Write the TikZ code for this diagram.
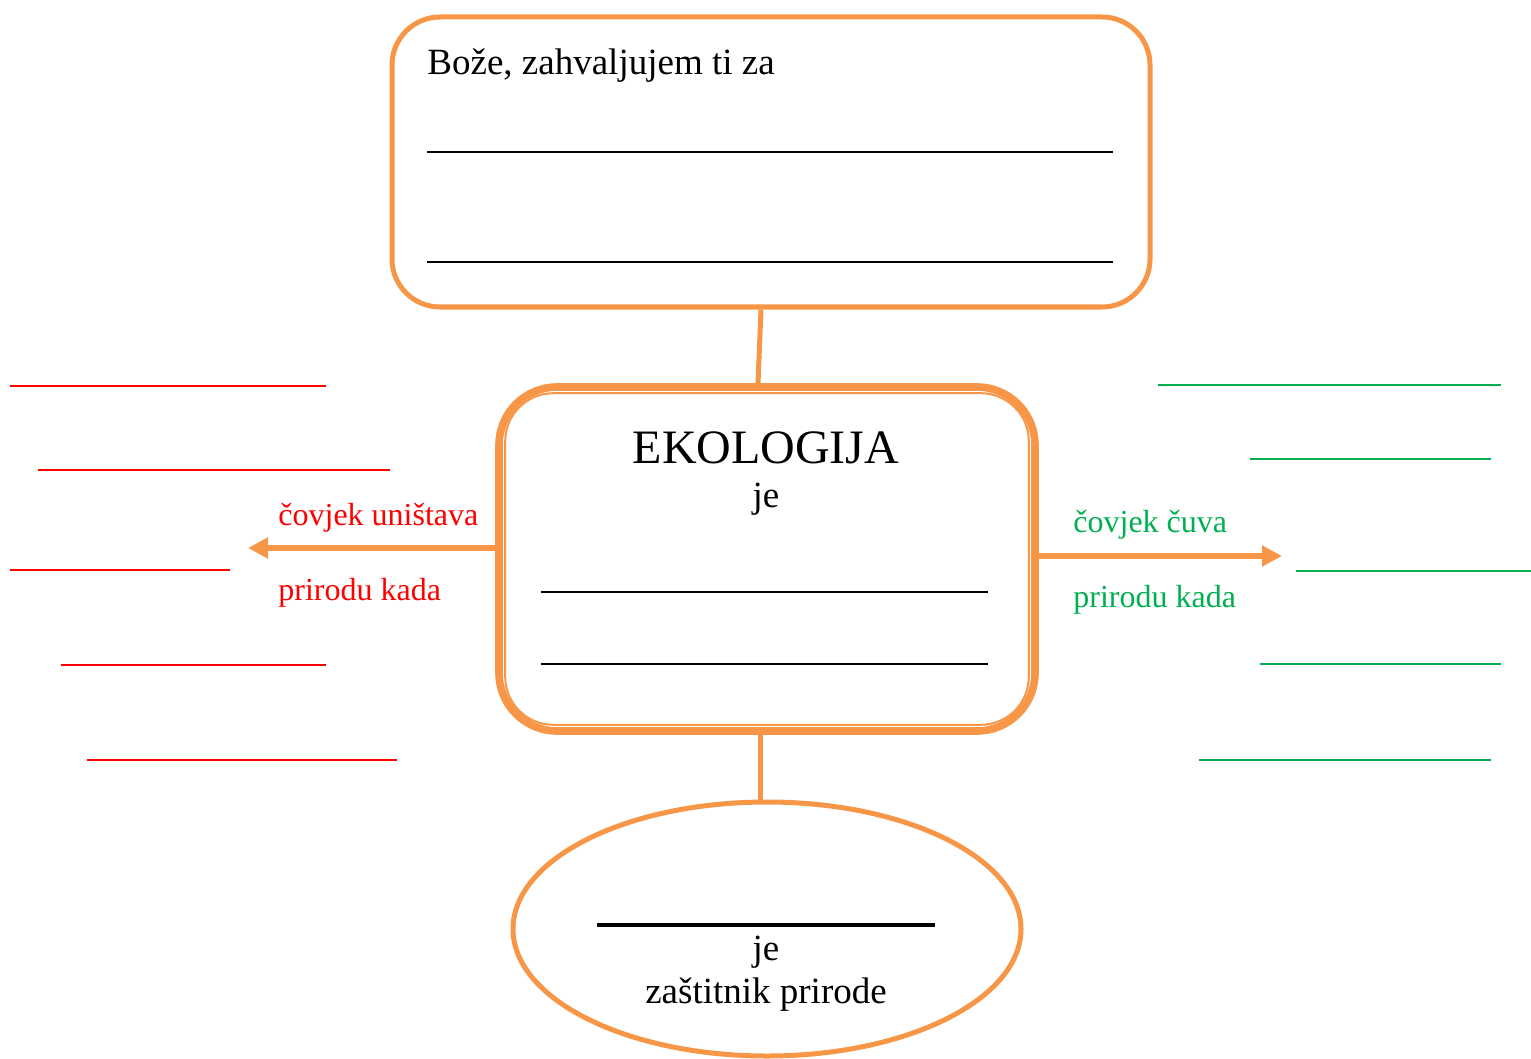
\documentclass[tikz,border=0pt]{standalone}
\usepackage{fontspec}
\setmainfont{Liberation Serif}
\usetikzlibrary{shapes.geometric, arrows.meta, positioning}
\definecolor{ekoorange}{HTML}{F79646}
\definecolor{ekored}{HTML}{FF0000}
\definecolor{ekogreen}{HTML}{00B050}
\tikzset{
        x=0.5pt, y=-0.5pt, % one unit is one pixel of the sheet
        >={Triangle[length=10pt, width=10pt]},
        bigbox/.style={draw=ekoorange, rectangle, inner sep=0pt},
        link/.style={draw=ekoorange, line width=2.5pt},
        arrowline/.style={draw=ekoorange, line width=3pt, ->},
        blank/.style={draw=black, line width=0.75pt},
        redblank/.style={draw=ekored, line width=1pt},
        greenblank/.style={draw=ekogreen, line width=1pt},
        txt/.style={anchor=base west, inner sep=0pt, font=\fontsize{18.5}{22}\selectfont},
        sidetxt/.style={anchor=base west, inner sep=0pt, font=\fontsize{16}{19}\selectfont}
        }

\begin{document}
\begin{tikzpicture}
        \useasboundingbox (0,0) rectangle (1531,1059);
        % the three boxes
        \node[bigbox, line width=2.5pt, rounded corners=24pt, minimum width=379pt, minimum height=145pt] (thanks) at (771,162) {};
        \node[bigbox, line width=3.8pt, rounded corners=29pt, minimum width=268pt, minimum height=172pt] (eko) at (767,559) {};
        \node[draw=ekoorange, ellipse, line width=2.5pt, minimum width=254pt, minimum height=127pt] (guard) at (767,929) {};
        \draw[ekoorange, line width=1pt, rounded corners=24pt] ([xshift=5pt,yshift=5pt]eko.south west) rectangle ([xshift=-5pt,yshift=-5pt]eko.north east);

        % top box
        \node[txt] (thankstext) at (427,75) {Bože, zahvaljujem ti za};
        \draw[blank] (427,152) -- (1113,152);
        \draw[blank] (427,262) -- (1113,262);

        % middle box
        \node[anchor=base, inner sep=0pt, font=\fontsize{24}{28}\selectfont] (title) at (766,463) {EKOLOGIJA};
        \node[anchor=base, inner sep=0pt, font=\fontsize{18.5}{22}\selectfont] (is) at (766,507) {je};
        \draw[blank] (541,592) -- (988,592);
        \draw[blank] (541,664) -- (988,664);

        % ellipse
        \draw[black, line width=2pt] (597,925) -- (935,925);
        \node[anchor=base, inner sep=0pt, font=\fontsize{18.5}{22}\selectfont] (is2) at (766,960) {je};
        \node[anchor=base, inner sep=0pt, font=\fontsize{18.5}{22}\selectfont] (protector) at (766,1003) {zaštitnik prirode};

        % connectors
        \draw[link] ([xshift=-5pt]thanks.south) -- ([xshift=-4.5pt]eko.north);
        \draw[link] ([xshift=-3.5pt]eko.south) -- ([xshift=-3.5pt]guard.north);
        \coordinate (destroy) at (248,548);
        \coordinate (keep) at (1282,556);
        \draw[arrowline] ([yshift=5.5pt]eko.west) -- (destroy);
        \draw[arrowline] ([yshift=1.5pt]eko.east) -- (keep);

        % left side
        \node[sidetxt, text=ekored] (destroytop) at (278,525) {čovjek uništava};
        \node[sidetxt, text=ekored] (destroybot) at (278,600) {prirodu kada};
        \draw[redblank] (10,386) -- (326,386);
        \draw[redblank] (38,470) -- (390,470);
        \draw[redblank] (10,570) -- (230,570);
        \draw[redblank] (61,665) -- (326,665);
        \draw[redblank] (87,760) -- (397,760);

        % right side
        \node[sidetxt, text=ekogreen] (keeptop) at (1073,532) {čovjek čuva};
        \node[sidetxt, text=ekogreen] (keepbot) at (1073,607) {prirodu kada};
        \draw[greenblank] (1158,385) -- (1501,385);
        \draw[greenblank] (1250,459) -- (1491,459);
        \draw[greenblank] (1296,571) -- (1531,571);
        \draw[greenblank] (1260,664) -- (1501,664);
        \draw[greenblank] (1199,760) -- (1491,760);
\end{tikzpicture}
\end{document}
